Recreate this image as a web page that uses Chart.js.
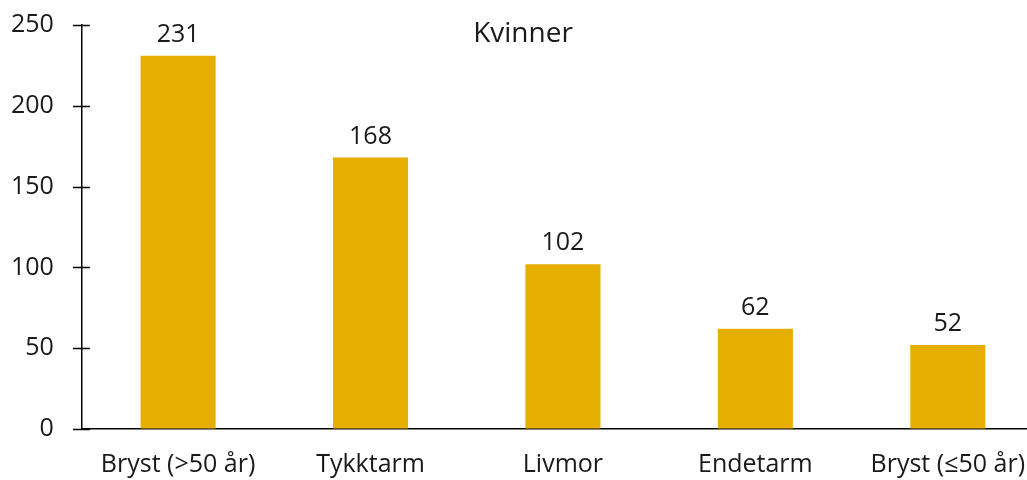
<!DOCTYPE html>
<html>
<head>
<meta charset="utf-8">
<script src="https://cdn.jsdelivr.net/npm/chart.js@4.4.0/dist/chart.umd.min.js"></script>
<style>
    html, body { margin: 0; padding: 0; background: #fff; overflow: hidden; }
    #wrap { width: 1060px; height: 480px; position: relative; }
</style>
</head>
<body>
<div id="wrap"><canvas id="kvinnerChart"></canvas></div>
<script>
const categories = ['Bryst (>50 år)', 'Tykktarm', 'Livmor', 'Endetarm', 'Bryst (≤50 år)'];
const values = [231, 168, 102, 62, 52];
const yTicks = [0, 50, 100, 150, 200, 250];
const chartTitle = 'Kvinner';

const fontFamily = '"Open Sans", Lato, sans-serif';
const textColor = '#1a1a1a';

// value labels above bars + title + tick crosses on the y axis
const extrasPlugin = {
    id: 'extras',
    afterDatasetsDraw(chart) {
        const ctx = chart.ctx;
        ctx.save();
        ctx.fillStyle = textColor;
        ctx.font = '25px ' + fontFamily;
        ctx.textAlign = 'center';
        ctx.textBaseline = 'alphabetic';
        chart.getDatasetMeta(0).data.forEach((bar, i) => {
            ctx.fillText(values[i], bar.x, bar.y - 14);
        });

        // title
        ctx.font = '28px ' + fontFamily;
        ctx.fillText(chartTitle, 523, 42);

        // y ticks crossing the axis
        const y = chart.scales.y;
        ctx.strokeStyle = '#000';
        ctx.lineWidth = 1.5;
        yTicks.forEach(v => {
            const py = Math.round(y.getPixelForValue(v)) + 0.5;
            ctx.beginPath();
            ctx.moveTo(y.right - 9, py);
            ctx.lineTo(y.right + 8, py);
            ctx.stroke();
        });
        ctx.restore();
    }
};

const ctx = document.getElementById('kvinnerChart').getContext('2d');
const kvinnerChart = new Chart(ctx, {
    type: 'bar',
    data: {
        labels: categories,
        datasets: [{
            data: values,
            backgroundColor: '#E5AE00',
            borderWidth: 0,
            categoryPercentage: 1,
            barPercentage: 0.39
        }]
    },
    options: {
        responsive: true,
        maintainAspectRatio: false,
        animation: false,
        layout: { padding: { left: 11, right: 16, top: 25, bottom: 0 } },
        plugins: {
            legend: { display: false },
            tooltip: { enabled: false },
            title: { display: false }
        },
        scales: {
            x: {
                // invisible tick marks used as spacing under the axis
                grid: { display: true, drawOnChartArea: false, drawTicks: true, tickLength: 21, tickColor: 'rgba(0,0,0,0)' },
                border: { display: true, color: '#000', width: 1.5 },
                ticks: {
                    color: textColor,
                    font: { family: fontFamily, size: 25 },
                    padding: 0,
                    maxRotation: 0,
                    autoSkip: false
                }
            },
            y: {
                min: 0,
                max: 250,
                afterBuildTicks(scale) {
                    scale.ticks = yTicks.map(v => ({ value: v }));
                },
                grid: { display: true, drawOnChartArea: false, drawTicks: true, tickLength: 28, tickColor: 'rgba(0,0,0,0)' },
                border: { display: true, color: '#000', width: 1.5 },
                ticks: {
                    color: textColor,
                    font: { family: fontFamily, size: 25 },
                    padding: 0
                }
            }
        }
    },
    plugins: [extrasPlugin]
});
</script>
</body>
</html>
